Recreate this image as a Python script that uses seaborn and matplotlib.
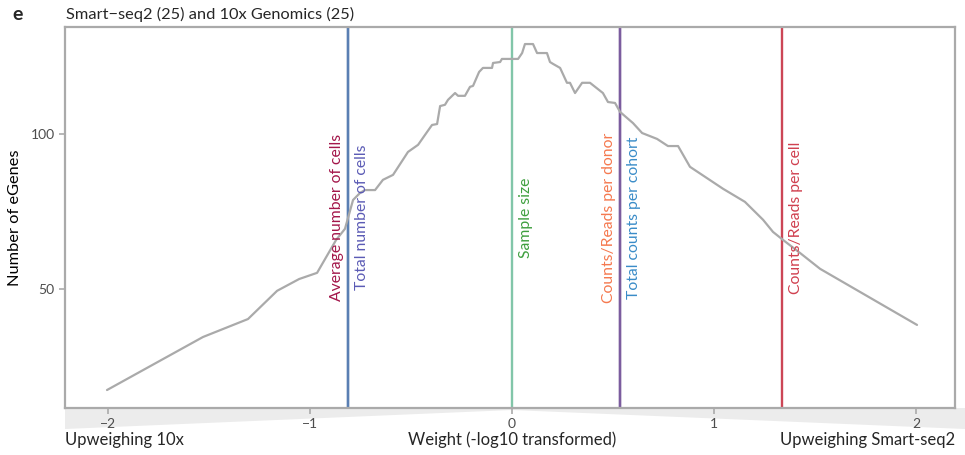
import matplotlib
matplotlib.use("Agg")
import matplotlib.pyplot as plt
import matplotlib.transforms as mtransforms
from matplotlib.patches import Polygon
import numpy as np
import pandas as pd
import seaborn as sns

# eGene counts across the -log10 weight grid
weight = [-2.005, -1.530, -1.307, -1.163, -1.054, -0.965, -0.871, -0.827, -0.787,
          -0.752, -0.728, -0.678, -0.639, -0.589, -0.515, -0.465, -0.421, -0.396,
          -0.371, -0.356, -0.332, -0.317, -0.282, -0.267, -0.233, -0.208, -0.193,
          -0.163, -0.144, -0.099, -0.094, -0.059, -0.050, 0.030, 0.050, 0.064,
          0.104, 0.124, 0.173, 0.188, 0.203, 0.238, 0.272, 0.287, 0.312, 0.347,
          0.386, 0.450, 0.475, 0.510, 0.535, 0.599, 0.644, 0.718, 0.772, 0.822,
          0.881, 1.045, 1.153, 1.243, 1.292, 1.342, 1.426, 1.525, 2.005]
egenes = [17.4, 34.5, 40.3, 49.4, 53.2, 55.2, 65.8, 69.4, 78.7,
          81.0, 81.9, 81.9, 85.2, 86.8, 94.2, 96.5, 100.6, 102.9,
          103.2, 109.0, 109.4, 111.0, 113.2, 112.3, 112.3, 115.2, 115.5,
          120.0, 121.3, 121.3, 122.9, 123.2, 124.2, 124.2, 126.1, 129.0,
          129.0, 126.1, 126.1, 123.2, 122.6, 121.3, 116.5, 116.5, 113.2, 116.5,
          116.5, 113.2, 110.3, 110.0, 107.1, 103.5, 100.3, 98.4, 96.1, 96.1,
          89.4, 82.3, 78.1, 72.3, 68.4, 65.8, 61.6, 56.5, 38.4]

# Weighting factors and their estimated weights
factor_names = ["Average number of cells", "Total number of cells", "Sample size",
                "Counts/Reads per donor", "Total counts per cohort", "Counts/Reads per cell"]
factor_weight = [-0.812, -0.812, 0.0, 0.535, 0.535, 1.337]
factor_side = ["left", "right", "right", "left", "right", "right"]
label_colors = ["#a3164a", "#5b5bb5", "#3f9f3f", "#f5794f", "#3a8cc8", "#d0404f"]
line_colors = ["#5a7fb3", "#5a7fb3", "#82c6a9", "#7b5c9e", "#7b5c9e", "#cc4656"]

x_ticks = [-2, -1, 0, 1, 2]
y_ticks = [50, 100]

W, H = 965, 455
sns.set_theme(style="white")
plt.rcParams["font.family"] = ["Lato", "DejaVu Sans"]

fig = plt.figure(figsize=(W / 100, H / 100), dpi=100)
ax = fig.add_axes([65 / W, 1 - 408 / H, 890 / W, 381 / H])

df = pd.DataFrame({"weight": weight, "egenes": egenes})
sns.lineplot(data=df, x="weight", y="egenes", ax=ax, color="#aaaaaa",
             linewidth=1.6, zorder=3)

for w, c in zip(factor_weight, line_colors):
    ax.axvline(w, color=c, linewidth=1.7, zorder=2)

trans = mtransforms.blended_transform_factory(ax.transData, ax.transAxes)
for name, w, side, c in zip(factor_names, factor_weight, factor_side, label_colors):
    dx = -4 if side == "left" else 7
    t = mtransforms.offset_copy(trans, fig=fig, x=dx, y=0, units="dots")
    ax.text(w, 0.5, name, transform=t, rotation=90, color=c, fontsize=11.3,
            ha="right" if side == "left" else "left", va="center", zorder=4)

ax.set_xlim(-2.213, 2.193)
ax.set_ylim(11.6, 134.5)
ax.set_xticks(x_ticks)
ax.set_xticklabels([f"{v}".replace("-", "\u2212") for v in x_ticks])
ax.set_yticks(y_ticks)
ax.tick_params(axis="both", colors="#aaaaaa", labelcolor="#4d4d4d", labelsize=10,
               length=4, width=1.2, bottom=True, left=True)
ax.set_xlabel("")
ax.set_ylabel("Number of eGenes", fontsize=11.8, color="black", labelpad=6)
for s in ax.spines.values():
    s.set_color("#aaaaaa")
    s.set_linewidth(1.6)

# shaded wedges under the weight axis, kept behind the tick labels
pts = [(65, 408), (965, 408), (965, 429), (512, 410), (65, 429)]
poly = Polygon([(x / W, 1 - y / H) for x, y in pts], closed=True,
               transform=fig.transFigure, facecolor="#ececec", edgecolor="none",
               zorder=-5)
fig.patches.append(poly)

fig.text(65 / W, 1 - 440 / H, "Upweighing 10x", fontsize=12, ha="left", va="center")
fig.text(512 / W, 1 - 440 / H, "Weight (-log10 transformed)", fontsize=12,
         ha="center", va="center")
fig.text(955 / W, 1 - 440 / H, "Upweighing Smart-seq2", fontsize=12,
         ha="right", va="center")

fig.text(66 / W, 1 - 14 / H, "Smart\u2212seq2 (25) and 10x Genomics (25)",
         fontsize=11.8, ha="left", va="center")
fig.text(12 / W, 1 - 14 / H, "e", fontsize=14, fontweight="bold", ha="left",
         va="center")

fig.savefig("out.png", dpi=100)
